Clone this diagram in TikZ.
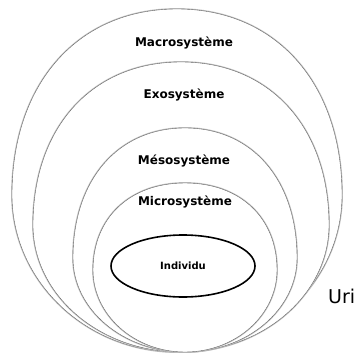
\documentclass[tikz,border=0pt]{standalone}
\usepackage{fontspec}
\setmainfont{DejaVu Sans}
\usetikzlibrary{shapes.geometric}
% one shell of the model: centre x, top, widest y, bottom, half width
\newcommand{\shell}[5]{\filldraw[rim] (#1,#2) .. controls ({#1+.6*#5},#2) and ({#1+#5},{#3-.6*(#3-#2)}) .. ({#1+#5},#3) .. controls ({#1+#5},{#3+.55*(#4-#3)}) and ({#1+.55*#5},#4) .. (#1,#4) .. controls ({#1-.55*#5},#4) and ({#1-#5},{#3+.55*(#4-#3)}) .. ({#1-#5},#3) .. controls ({#1-#5},{#3-.6*(#3-#2)}) and ({#1-.6*#5},#2) .. cycle;}

\begin{document}
\begin{tikzpicture}[x=1pt,y=-1pt,
  rim/.style={fill=white,draw=black!60,line width=.4pt,preaction={draw=black!25,line width=1.8pt}},
  lbl/.style={font=\bfseries\fontsize{12}{14}\selectfont,inner sep=1pt}]
\useasboundingbox[fill=white] (0,0) rectangle (358,353);
\shell{177}{9}{195}{352}{165}\shell{181}{62}{225}{352}{148}
\shell{185}{128}{258}{352}{112}\shell{185}{183}{270}{352}{92}
\node[lbl] (macro) at (184,43) {Macrosystème};
\node[lbl] (exo) at (184,95) {Exosystème};
\node[lbl] (meso) at (184,161) {Mésosystème};
\node[lbl] (micro) at (185,202) {Microsystème};
\node[draw,ellipse,line width=1.6pt,minimum width=144pt,minimum height=62pt,inner sep=0,font=\bfseries\fontsize{10}{12}\selectfont] (indiv) at (183,266) {Individu};
\node[anchor=base west,inner sep=0,font=\fontsize{19}{22}\selectfont] (uri) at (328,303) {Uri};
\end{tikzpicture}
\end{document}
